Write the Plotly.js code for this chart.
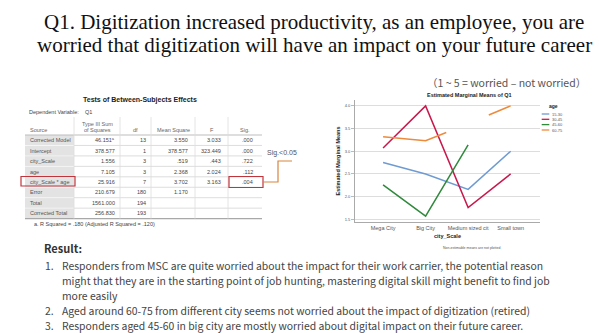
<!DOCTYPE html>
<html>
<head>
<meta charset="utf-8">
<script src="https://cdn.plot.ly/plotly-3.0.1.min.js"></script>
<style>html,body{margin:0;padding:0;background:#fff}</style>
</head>
<body>
<div id="chart" style="width:599px;height:333px"></div>
<script>
// ---------- data ----------
const cities = ['Mega City', 'Big City', 'Medium sized cit', 'Small town'];
const ageGroups = ['15-30', '30-45', '45-60', '60-75'];
const means15_30 = [2.75, 2.50, 2.16, 3.00];
const means30_45 = [3.07, 4.00, 1.76, 2.50];
const means45_60 = [2.26, 1.57, 3.14, null];
const means60_75 = [3.32, 3.23, 3.61, 4.00];
const yTicks = [1.5, 2.0, 2.5, 3.0, 3.5, 4.0];

const tableHeader = ['Source', 'Type III Sum<br>of Squares', 'df', 'Mean Square', 'F', 'Sig.'];
const colSource = ['Corrected Model', 'Intercept', 'city_Scale', 'age', 'city_Scale * age', 'Error', 'Total', 'Corrected Total'];
const colSS = ['46.151<sup>a</sup>', '378.577', '1.556', '7.105', '25.916', '210.679', '1561.000', '256.830'];
const colDf = ['13', '1', '3', '3', '7', '180', '194', '193'];
const colMS = ['3.550', '378.577', '.519', '2.368', '3.702', '1.170', '', ''];
const colF = ['3.033', '323.449', '.443', '2.024', '3.163', '', '', ''];
const colSig = ['.000', '.000', '.722', '.112', '.004', '', '', ''];

const titleLines = [
  'Q1. Digitization increased productivity, as an employee, you are',
  'worried that digitization will have an impact on your future career'
];
const scaleNote = '（1 ~ 5 = worried – not worried）';
const resultNums = ['1.', '', '', '2.', '3.'];
const resultLines = [
  'Responders from MSC are quite worried about the impact for their work carrier, the potential reason',
  'might that they are in the starting point of job hunting, mastering digital skill might benefit to find job',
  'more easily',
  'Aged around 60-75 from different city seems not worried about the impact of digitization (retired)',
  'Responders aged 45-60 in big city are mostly worried about digital impact on their future career.'
];

// ---------- helpers ----------
const W = 599, H = 333;
const px = x => x / W;
const py = y => 1 - y / H;
const colors = ['#6f9bd2', '#c8184c', '#2f8a3c', '#ee8a3c'];
const series = [means15_30, means30_45, means45_60, means60_75];
const SANS = 'Liberation Sans, Arial, sans-serif';
const CJK = 'Noto Sans CJK SC, Noto Sans, sans-serif';

const traces = series.map((vals, i) => ({
  type: 'scatter', mode: 'lines', x: cities, y: vals, name: ageGroups[i],
  line: {color: colors[i], width: 1.5, dash: i === 3 ? '65px,46px,200px' : 'solid'},
  connectgaps: false, showlegend: false, hoverinfo: 'skip', xaxis: 'x', yaxis: 'y'
}));

const ann = [];
const shapes = [];
function txt(text, x, y, anchor, size, color, family) {
  ann.push({text: text, x: px(x), y: py(y), xref: 'paper', yref: 'paper', showarrow: false,
    xanchor: anchor, yanchor: 'middle', font: {family: family || SANS, size: size, color: color}});
}
function hline(x0, x1, y, color, w) {
  shapes.push({type: 'line', xref: 'paper', yref: 'paper', x0: px(x0), x1: px(x1), y0: py(y), y1: py(y),
    line: {color: color, width: w || 1}});
}
function vline(x, y0, y1, color, w) {
  shapes.push({type: 'line', xref: 'paper', yref: 'paper', x0: px(x), x1: px(x), y0: py(y0), y1: py(y1),
    line: {color: color, width: w || 1}});
}

// ---------- table (SPSS style) ----------
const colEdges = [25, 74, 120, 151, 195, 228, 262];
const headTop = 117, headBot = 135, rowH = 10.45;
const nRows = colSource.length;
const tabBot = headBot + nRows * rowH;
const columns = [colSource, colSS, colDf, colMS, colF, colSig];
const rightPad = [0, 3, 3, 5, 5, 7];
shapes.push({type: 'rect', xref: 'paper', yref: 'paper', x0: px(colEdges[0]), x1: px(colEdges[1]),
  y0: py(tabBot), y1: py(headBot), fillcolor: '#e3e3e3', line: {width: 0}, layer: 'below'});
for (let r = 1; r < nRows; r++) hline(colEdges[0], colEdges[6], headBot + r * rowH, '#d4d4d4', 0.8);
for (let r = 1; r < nRows; r++) hline(colEdges[0], colEdges[1], headBot + r * rowH, '#ffffff', 0.8);
hline(colEdges[0], colEdges[6], headBot, '#bdbdbd', 1);
hline(colEdges[0], colEdges[6], tabBot, '#a8a8a8', 1.2);
for (let c = 1; c < 6; c++) vline(colEdges[c], headTop, tabBot, '#dddddd', 0.8);
txt(tableHeader[0], colEdges[0] + 3, 130, 'left', 5.5, '#666');
txt('Type III Sum', (colEdges[1] + colEdges[2]) / 2, 123.5, 'center', 5.5, '#666');
txt('of Squares', (colEdges[1] + colEdges[2]) / 2, 130, 'center', 5.5, '#666');
for (let c = 2; c < 6; c++) txt(tableHeader[c], (colEdges[c] + colEdges[c + 1]) / 2, 130, 'center', 5.5, '#666');
columns.forEach((col, c) => {
  col.forEach((v, r) => {
    if (!v) return;
    const yc = headBot + (r + 0.5) * rowH;
    if (c === 0) txt(v, colEdges[0] + 3, yc, 'left', 5.5, '#555');
    else txt(v, colEdges[c + 1] - rightPad[c], yc, 'right', 5.5, '#444');
  });
});

// slide title
txt(titleLines[0], 314, 22, 'center', 21, '#111', 'Liberation Serif, Times New Roman, serif');
txt(titleLines[1], 314, 45, 'center', 21, '#111', 'Liberation Serif, Times New Roman, serif');
txt(scaleNote, 588, 82, 'right', 10.5, '#555', CJK);
// table captions
txt('<b>Tests of Between-Subjects Effects</b>', 140, 100, 'center', 7, '#222');
txt('Dependent Variable:', 27, 112, 'left', 5.5, '#444');
txt('Q1', 83, 112, 'left', 5.5, '#444');
txt('a. R Squared = .180 (Adjusted R Squared = .120)', 32, 224, 'left', 5.5, '#444');
txt('Sig.<0.05', 265, 153, 'left', 7, '#555');
// chart texts
txt('<b>Estimated Marginal Means of Q1</b>', 469, 94.5, 'center', 5.5, '#222');
txt('Non-estimable means are not plotted', 471, 248, 'center', 3.5, '#555');
txt('<b>age</b>', 546.5, 105.5, 'left', 5, '#222');
const legY = [114, 119.3, 124.6, 130];
ageGroups.forEach((g, i) => {
  txt(g, 550, legY[i], 'left', 4, '#555');
  hline(541.7, 549.3, legY[i], colors[i], 1.3);
});
// result section
txt('<b>Result:</b>', 42, 248, 'left', 11, '#333', CJK);
const resY = [265, 280.5, 295.5, 310.5, 325.5];
resultLines.forEach((t, i) => {
  if (resultNums[i]) txt(resultNums[i], 43, resY[i], 'left', 10.4, '#444', CJK);
  txt(t, 60, resY[i], 'left', 10.4, '#444', CJK);
});

// red boxes and bracket
shapes.push({type: 'rect', xref: 'paper', yref: 'paper', x0: px(21), x1: px(75), y0: py(186), y1: py(176.5),
  line: {color: '#c0343c', width: 1.2}});
shapes.push({type: 'rect', xref: 'paper', yref: 'paper', x0: px(229), x1: px(263), y0: py(187.5), y1: py(176.5),
  line: {color: '#c0343c', width: 1.2}});
shapes.push({type: 'path', xref: 'paper', yref: 'paper',
  path: `M ${px(263)} ${py(182)} L ${px(278)} ${py(182)} L ${px(278)} ${py(161)} L ${px(292)} ${py(161)}`,
  line: {color: '#d9843e', width: 1.2}});

const layout = {
  width: W, height: H,
  margin: {l: 0, r: 0, t: 0, b: 0},
  paper_bgcolor: '#ffffff', plot_bgcolor: '#ffffff',
  showlegend: false,
  xaxis: {
    domain: [px(355), px(540)], type: 'category', range: [-0.66, 3.69],
    showgrid: false, zeroline: false, showline: true, linecolor: '#aaaaaa', linewidth: 1,
    ticks: '', tickfont: {family: SANS, size: 5.5, color: '#555'},
    title: {text: '<b>city_Scale</b>', font: {family: SANS, size: 5.5, color: '#222'}, standoff: 4}
  },
  yaxis: {
    domain: [py(222), py(100)], range: [1.44, 4.13],
    tickvals: yTicks, tickformat: '.1f',
    showgrid: true, gridcolor: '#dddddd', gridwidth: 1, zeroline: false,
    showline: true, linecolor: '#aaaaaa', linewidth: 1,
    ticks: 'outside', ticklen: 3, tickcolor: '#bbbbbb',
    tickfont: {family: SANS, size: 4, color: '#555'},
    title: {text: '<b>Estimated Marginal Means</b>', font: {family: SANS, size: 5.5, color: '#222'}, standoff: 3}
  },
  annotations: ann,
  shapes: shapes
};

Plotly.newPlot('chart', traces, layout, {staticPlot: true, displayModeBar: false});
</script>
</body>
</html>
